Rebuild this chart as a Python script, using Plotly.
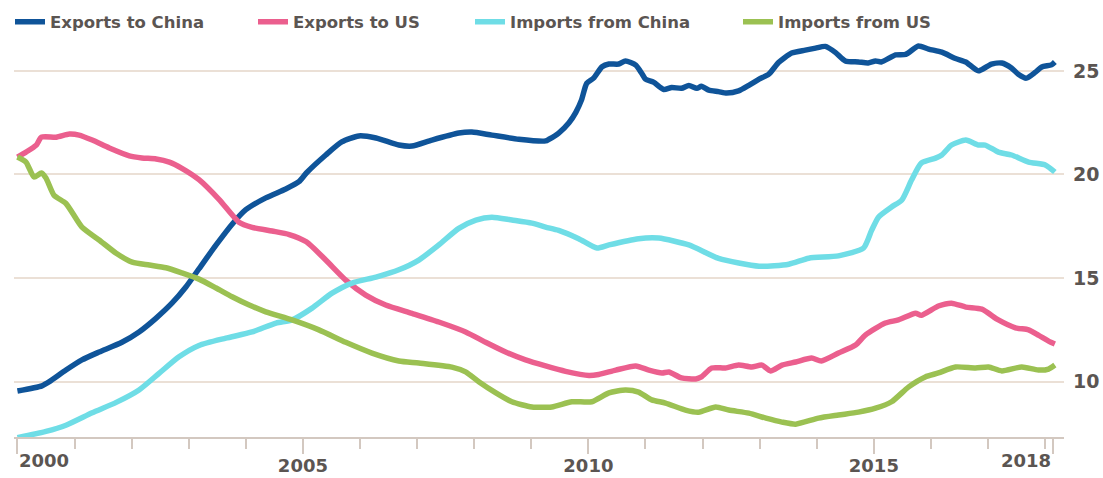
import plotly.graph_objects as go

# ---------------- data ----------------
exp_china_x = [2000.00, 2000.43, 2000.56, 2000.85, 2001.13, 2001.43, 2001.83, 2002.13, 2002.43, 2002.71,
               2002.95, 2003.18, 2003.48, 2003.76, 2004.00, 2004.35, 2004.70, 2004.93, 2005.06, 2005.40,
               2005.68, 2005.98, 2006.28, 2006.68, 2006.91, 2007.26, 2007.73, 2007.96, 2008.31, 2008.78,
               2009.25, 2009.31, 2009.48, 2009.66, 2009.78, 2009.88, 2009.97, 2010.09, 2010.24, 2010.36,
               2010.53, 2010.65, 2010.83, 2010.93, 2011.00, 2011.14, 2011.32, 2011.46, 2011.63, 2011.76,
               2011.90, 2011.98, 2012.11, 2012.28, 2012.42, 2012.63, 2012.81, 2012.99, 2013.16, 2013.33,
               2013.56, 2013.80, 2013.98, 2014.15, 2014.33, 2014.50, 2014.73, 2014.90, 2015.03, 2015.13,
               2015.38, 2015.56, 2015.78, 2015.96, 2016.19, 2016.43, 2016.61, 2016.83, 2017.06, 2017.24,
               2017.41, 2017.53, 2017.67, 2017.83, 2017.94, 2018.11, 2018.17]
exp_china_y = [9.55, 9.8, 10.0, 10.56, 11.05, 11.43, 11.9, 12.4, 13.07, 13.8,
               14.57, 15.45, 16.6, 17.6, 18.3, 18.87, 19.3, 19.65, 20.07, 20.94,
               21.57, 21.86, 21.76, 21.42, 21.37, 21.66, 22.0, 22.05, 21.9, 21.7,
               21.62, 21.7, 22.0, 22.5, 23.0, 23.6, 24.4, 24.65, 25.2, 25.33,
               25.33, 25.48, 25.28, 24.9, 24.6, 24.46, 24.1, 24.2, 24.16, 24.3,
               24.16, 24.26, 24.07, 24.0, 23.93, 24.03, 24.3, 24.6, 24.84, 25.4,
               25.86, 26.0, 26.1, 26.18, 25.88, 25.48, 25.43, 25.38, 25.48, 25.43,
               25.77, 25.8, 26.2, 26.05, 25.9, 25.6, 25.43, 25.0, 25.33, 25.38,
               25.14, 24.84, 24.65, 24.94, 25.19, 25.29, 25.43]

exp_us_x = [2000.00, 2000.15, 2000.33, 2000.42, 2000.68, 2000.91, 2001.08, 2001.31, 2001.61, 2001.96,
            2002.18, 2002.43, 2002.66, 2002.88, 2003.18, 2003.53, 2003.88, 2004.11, 2004.46, 2004.76,
            2005.06, 2005.40, 2005.75, 2006.10, 2006.45, 2006.91, 2007.38, 2007.85, 2008.20, 2008.55,
            2008.90, 2009.25, 2009.60, 2010.01, 2010.18, 2010.48, 2010.83, 2011.06, 2011.29, 2011.41,
            2011.63, 2011.88, 2011.98, 2012.16, 2012.40, 2012.63, 2012.86, 2013.04, 2013.19, 2013.39,
            2013.63, 2013.91, 2014.08, 2014.38, 2014.68, 2014.85, 2015.20, 2015.43, 2015.73, 2015.83,
            2016.13, 2016.36, 2016.61, 2016.89, 2017.18, 2017.48, 2017.71, 2017.88, 2018.06, 2018.17]
exp_us_y = [20.84, 21.08, 21.42, 21.8, 21.8, 21.95, 21.9, 21.66, 21.28, 20.9,
            20.8, 20.75, 20.6, 20.3, 19.75, 18.8, 17.7, 17.45, 17.27, 17.1,
            16.75, 15.87, 14.9, 14.18, 13.7, 13.3, 12.88, 12.4, 11.9, 11.43,
            11.05, 10.76, 10.5, 10.3, 10.35, 10.56, 10.76, 10.56, 10.42, 10.47,
            10.18, 10.13, 10.23, 10.66, 10.66, 10.8, 10.71, 10.8, 10.52, 10.8,
            10.95, 11.14, 11.0, 11.38, 11.77, 12.25, 12.83, 12.98, 13.3, 13.2,
            13.65, 13.79, 13.6, 13.5, 12.98, 12.6, 12.5, 12.25, 11.96, 11.82]

imp_china_x = [2000.00, 2000.50, 2000.85, 2001.31, 2001.73, 2002.13, 2002.48, 2002.83, 2003.18, 2003.65,
               2004.11, 2004.53, 2004.81, 2005.16, 2005.51, 2005.86, 2006.28, 2006.68, 2007.03, 2007.38,
               2007.73, 2008.03, 2008.31, 2008.66, 2009.01, 2009.25, 2009.48, 2009.83, 2010.15, 2010.36,
               2010.88, 2011.23, 2011.76, 2012.28, 2012.99, 2013.51, 2013.86, 2014.38, 2014.82, 2014.96,
               2015.08, 2015.31, 2015.49, 2015.66, 2015.83, 2016.08, 2016.19, 2016.36, 2016.61, 2016.83,
               2016.95, 2017.18, 2017.41, 2017.71, 2018.01, 2018.17]
imp_china_y = [7.3, 7.6, 7.9, 8.5, 9.0, 9.6, 10.4, 11.2, 11.75, 12.1,
               12.4, 12.83, 12.98, 13.55, 14.27, 14.76, 15.05, 15.4, 15.87, 16.6,
               17.4, 17.8, 17.94, 17.8, 17.65, 17.46, 17.3, 16.9, 16.45, 16.6,
               16.9, 16.93, 16.6, 15.95, 15.57, 15.67, 15.96, 16.07, 16.45, 17.3,
               17.94, 18.43, 18.77, 19.73, 20.55, 20.79, 20.94, 21.42, 21.66, 21.42,
               21.42, 21.08, 20.94, 20.6, 20.45, 20.12]

imp_us_x = [2000.00, 2000.15, 2000.29, 2000.42, 2000.50, 2000.64, 2000.85, 2001.13, 2001.43, 2001.73,
            2002.01, 2002.31, 2002.60, 2002.88, 2003.18, 2003.48, 2003.76, 2004.06, 2004.35, 2004.81,
            2005.28, 2005.75, 2006.21, 2006.68, 2007.03, 2007.61, 2007.85, 2008.08, 2008.38, 2008.66,
            2009.01, 2009.36, 2009.71, 2010.06, 2010.36, 2010.65, 2010.88, 2011.11, 2011.35, 2011.70,
            2011.93, 2012.23, 2012.46, 2012.81, 2013.11, 2013.39, 2013.63, 2014.03, 2014.38, 2014.73,
            2015.03, 2015.31, 2015.61, 2015.90, 2016.13, 2016.43, 2016.78, 2017.01, 2017.24, 2017.59,
            2017.88, 2018.06, 2018.17]
imp_us_y = [20.84, 20.6, 19.88, 20.07, 19.83, 19.0, 18.6, 17.46, 16.84, 16.2,
            15.77, 15.63, 15.5, 15.25, 14.95, 14.52, 14.1, 13.7, 13.37, 12.98,
            12.5, 11.9, 11.38, 11.0, 10.9, 10.7, 10.47, 10.0, 9.46, 9.03,
            8.78, 8.78, 9.03, 9.03, 9.46, 9.6, 9.5, 9.12, 8.97, 8.63,
            8.53, 8.78, 8.63, 8.48, 8.24, 8.05, 7.95, 8.24, 8.39, 8.53,
            8.72, 9.03, 9.75, 10.23, 10.42, 10.71, 10.66, 10.71, 10.52, 10.71,
            10.56, 10.61, 10.8]

series_names = ["Exports to China", "Exports to US", "Imports from China", "Imports from US"]
series_colors = ["#0f5499", "#eb5f8e", "#6fdde6", "#9bc152"]

x_major_ticks = [2000, 2005, 2010, 2015, 2018.13]
x_major_labels = ["", "2005", "2010", "2015", ""]
edge_label_x = [2000, 2018.13]
edge_label_text = ["2000", "2018"]
edge_label_anchor = ["left", "right"]
x_minor_ticks = list(range(2001, 2019))
y_ticks = [10, 15, 20, 25]

# ---------------- figure ----------------
TXT = "#5b5552"
FONT = "DejaVu Sans"
TICKFONT = dict(family=FONT, size=18, color=TXT, weight="bold")

fig = go.Figure()
data = [(exp_china_x, exp_china_y), (exp_us_x, exp_us_y),
        (imp_china_x, imp_china_y), (imp_us_x, imp_us_y)]
legend_ids = ["legend", "legend2", "legend3", "legend4"]
for (xs, ys), name, col, lg in zip(data, series_names, series_colors, legend_ids):
    fig.add_trace(go.Scatter(x=xs, y=ys, mode="lines", name=name, legend=lg,
                             line=dict(color=col, width=5.5, shape="spline", smoothing=0.6)))

# edge year labels (left-aligned at 2000, right-aligned at the last tick)
for xv, txt, anc in zip(edge_label_x, edge_label_text, edge_label_anchor):
    fig.add_annotation(x=xv, xref="x", y=0, yref="paper", text=txt, showarrow=False,
                       xanchor=anc, yanchor="top", yshift=-11, font=TICKFONT)

W, H = 1103, 478
legend_text_px = [50, 293, 510, 778]
legend_style = dict(orientation="h", xref="container", yref="container",
                    xanchor="left", yanchor="middle", bgcolor="rgba(0,0,0,0)",
                    font=dict(family=FONT, size=16.5, color=TXT, weight="bold"),
                    itemclick=False, itemdoubleclick=False)
layout_legends = {}
for lg, tx in zip(legend_ids, legend_text_px):
    layout_legends[lg] = dict(x=(tx - 40) / W, y=1 - 22 / H, **legend_style)

fig.update_layout(
    width=W, height=H,
    margin=dict(l=14, r=39, t=40, b=41, autoexpand=False),
    paper_bgcolor="white", plot_bgcolor="white",
    showlegend=True,
    **layout_legends,
    xaxis=dict(range=[1999.94, 2018.33], showgrid=False, zeroline=False, automargin=False,
               showline=True, linecolor="#d3c8c0", linewidth=2,
               tickmode="array", tickvals=x_major_ticks, ticktext=x_major_labels,
               ticks="outside", ticklen=15, tickwidth=2, tickcolor="#d3c8c0",
               ticklabelstandoff=-4, ticklabeloverflow="allow",
               tickfont=TICKFONT,
               minor=dict(tickmode="array", tickvals=x_minor_ticks, ticks="outside",
                          ticklen=10, tickwidth=2, tickcolor="#d3c8c0", showgrid=False)),
    yaxis=dict(range=[7.33, 26.49], side="right", showline=False, zeroline=False, automargin=False,
               tickmode="array", tickvals=y_ticks, ticks="",
               showgrid=True, gridcolor="#ebe0d6", gridwidth=2,
               ticklabelstandoff=8, ticklabeloverflow="allow",
               tickfont=dict(family=FONT, size=19, color=TXT, weight="bold")),
)

fig.write_html("out.html", config={"displayModeBar": False},
               post_script="document.body.style.margin='0';document.body.style.overflow='hidden';")
